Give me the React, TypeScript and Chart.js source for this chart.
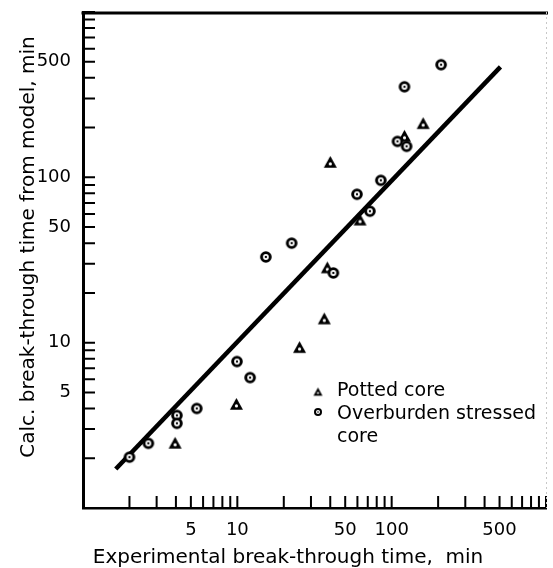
import React, { useEffect, useRef } from 'react';
import { Chart, registerables } from 'chart.js';

Chart.register(...registerables);

// Potted core (triangles)
const pottedX = [3.95, 9.86, 25.3, 36.6, 38.3, 40.0, 62.4, 121, 160];
const pottedY = [2.46, 4.23, 9.33, 13.9, 28.3, 123, 55.1, 177, 211];

// Overburden stressed core (circles)
const stressedX = [2.0, 2.65, 4.06, 4.06, 5.46, 9.95, 12.1, 15.3, 22.5, 41.9, 59.6, 72.3, 85.1, 109, 125, 121, 209];
const stressedY = [2.03, 2.46, 3.63, 3.25, 4.0, 7.69, 6.15, 33.0, 40.0, 26.4, 79.0, 62.4, 95.9, 165, 154, 353, 480];

// Model line
const fitX = [1.63, 507];
const fitY = [1.72, 466];

const tickValues = [1, 2, 3, 4, 5, 6, 7, 8, 9, 10, 20, 30, 40, 50, 60, 70, 80, 90, 100, 200, 300, 400, 500, 600, 700, 800, 900, 1000];
const labeledTicks = [5, 10, 50, 100, 500];

const xTitle = 'Experimental break-through time,  min';
const yTitle = 'Calc. break-through time from model, min';
const legendLabels = ['Potted core', 'Overburden stressed', 'core'];

const FONT = '"DejaVu Sans", sans-serif';

function circleMarker(r: number): HTMLCanvasElement {
  const s = Math.ceil(r * 2 + 4);
  const c = document.createElement('canvas');
  c.width = s;
  c.height = s;
  const ctx = c.getContext('2d')!;
  const m = s / 2;
  ctx.fillStyle = '#000';
  ctx.beginPath();
  ctx.arc(m, m, r, 0, Math.PI * 2);
  ctx.fill();
  ctx.fillStyle = '#fff';
  ctx.beginPath();
  ctx.arc(m, m, r * 0.5, 0, Math.PI * 2);
  ctx.fill();
  ctx.fillStyle = '#000';
  ctx.beginPath();
  ctx.arc(m, m, r * 0.2, 0, Math.PI * 2);
  ctx.fill();
  return c;
}

function triangleMarker(w: number): HTMLCanvasElement {
  const s = Math.ceil(w + 4);
  const c = document.createElement('canvas');
  c.width = s;
  c.height = s;
  const ctx = c.getContext('2d')!;
  const m = s / 2;
  const h = w * 0.9;
  ctx.fillStyle = '#000';
  ctx.beginPath();
  ctx.moveTo(m, m - h * 0.55);
  ctx.lineTo(m + w / 2, m + h * 0.45);
  ctx.lineTo(m - w / 2, m + h * 0.45);
  ctx.closePath();
  ctx.fill();
  ctx.fillStyle = '#fff';
  ctx.beginPath();
  ctx.arc(m, m + h * 0.12, w * 0.12, 0, Math.PI * 2);
  ctx.fill();
  return c;
}

const frameAndTicks = {
  id: 'frameAndTicks',
  afterDraw(chart: any) {
    const { ctx, chartArea } = chart;
    const xs = chart.scales.x;
    const ys = chart.scales.y;
    ctx.save();
    ctx.strokeStyle = '#000';
    ctx.lineWidth = 2;
    ctx.beginPath();
    for (const v of tickValues) {
      const px = xs.getPixelForValue(v);
      ctx.moveTo(px, chartArea.bottom);
      ctx.lineTo(px, chartArea.bottom - 12);
      const py = ys.getPixelForValue(v);
      ctx.moveTo(chartArea.left, py);
      ctx.lineTo(chartArea.left + 12, py);
    }
    ctx.stroke();
    // top frame
    ctx.lineWidth = 3;
    ctx.beginPath();
    ctx.moveTo(chartArea.left - 1.5, chartArea.top + 1);
    ctx.lineTo(chartArea.right + 2, chartArea.top + 1);
    ctx.stroke();
    // faint right edge
    ctx.strokeStyle = '#c8c8c8';
    ctx.lineWidth = 1;
    ctx.setLineDash([2, 3]);
    ctx.beginPath();
    ctx.moveTo(chartArea.right + 0.5, chartArea.top);
    ctx.lineTo(chartArea.right + 0.5, chartArea.bottom);
    ctx.stroke();
    ctx.setLineDash([]);

    // axis titles
    ctx.fillStyle = '#000';
    ctx.font = `20px ${FONT}`;
    ctx.textAlign = 'center';
    ctx.textBaseline = 'alphabetic';
    ctx.fillText(xTitle, 288, 563);
    ctx.save();
    ctx.translate(34, 247);
    ctx.rotate(-Math.PI / 2);
    ctx.fillText(yTitle, 0, 0);
    ctx.restore();

    // legend
    const tri = triangleMarker(9);
    const cir = circleMarker(4);
    ctx.drawImage(tri, 318 - tri.width / 2, 392 - tri.height / 2);
    ctx.drawImage(cir, 318 - cir.width / 2, 412 - cir.height / 2);
    ctx.font = `19px ${FONT}`;
    ctx.textAlign = 'left';
    ctx.fillText(legendLabels[0], 337, 396);
    ctx.fillText(legendLabels[1], 337, 419);
    ctx.fillText(legendLabels[2], 337, 442);
    ctx.restore();
  },
};

function zeroPadding(scale: any) {
  scale.paddingTop = 0;
  scale.paddingBottom = 0;
  scale.paddingLeft = 0;
  scale.paddingRight = 0;
}

function axisCommon(title: string) {
  return {
    type: 'logarithmic' as const,
    min: 1,
    max: 1000,
    border: { display: true, color: '#000', width: 3 },
    grid: { display: true, drawOnChartArea: false, drawTicks: false, color: 'rgba(0,0,0,0)' },
    afterBuildTicks(scale: any) {
      scale.ticks = tickValues.map((v) => ({ value: v }));
    },
    ticks: {
      autoSkip: false,
      maxRotation: 0,
      minRotation: 0,
      padding: 12,
      color: '#000',
      font: { family: FONT, size: 18 },
      callback: (value: any) => (labeledTicks.includes(Number(value)) ? String(value) : ''),
    },
    title: { display: false, text: title },
  };
}

export default function App() {
  const ref = useRef<HTMLCanvasElement | null>(null);

  useEffect(() => {
    if (!ref.current) return;
    const tri = triangleMarker(13);
    const cir = circleMarker(5.8);
    const chart = new Chart(ref.current, {
      type: 'scatter',
      data: {
        datasets: [
          {
            label: 'Model',
            data: fitX.map((x, i) => ({ x, y: fitY[i] })),
            showLine: true,
            borderColor: '#000',
            borderWidth: 4.5,
            pointRadius: 0,
            order: 3,
          },
          {
            label: 'Potted core',
            data: pottedX.map((x, i) => ({ x, y: pottedY[i] })),
            pointStyle: tri as any,
            pointRadius: 6,
            order: 2,
          },
          {
            label: 'Overburden stressed core',
            data: stressedX.map((x, i) => ({ x, y: stressedY[i] })),
            pointStyle: cir as any,
            pointRadius: 6,
            order: 1,
          },
        ],
      },
      options: {
        responsive: false,
        animation: false,
        layout: { padding: { top: 12, right: -7, left: 0, bottom: 0 } },
        plugins: { legend: { display: false }, tooltip: { enabled: false } },
        scales: {
          x: {
            ...axisCommon(xTitle),
            position: 'bottom',
            border: { display: true, color: '#000', width: 2.5 },
            afterFit(scale: any) {
              scale.height = 60;
              zeroPadding(scale);
            },
          },
          y: {
            ...axisCommon(yTitle),
            position: 'left',
            afterFit(scale: any) {
              scale.width = 83;
              zeroPadding(scale);
            },
          },
        },
      },
      plugins: [frameAndTicks],
    });
    return () => chart.destroy();
  }, []);

  return (
    <div style={{ position: 'absolute', left: 0, top: 0, width: 553, height: 568, background: '#fff' }}>
      <canvas ref={ref} width={553} height={568} />
    </div>
  );
}
